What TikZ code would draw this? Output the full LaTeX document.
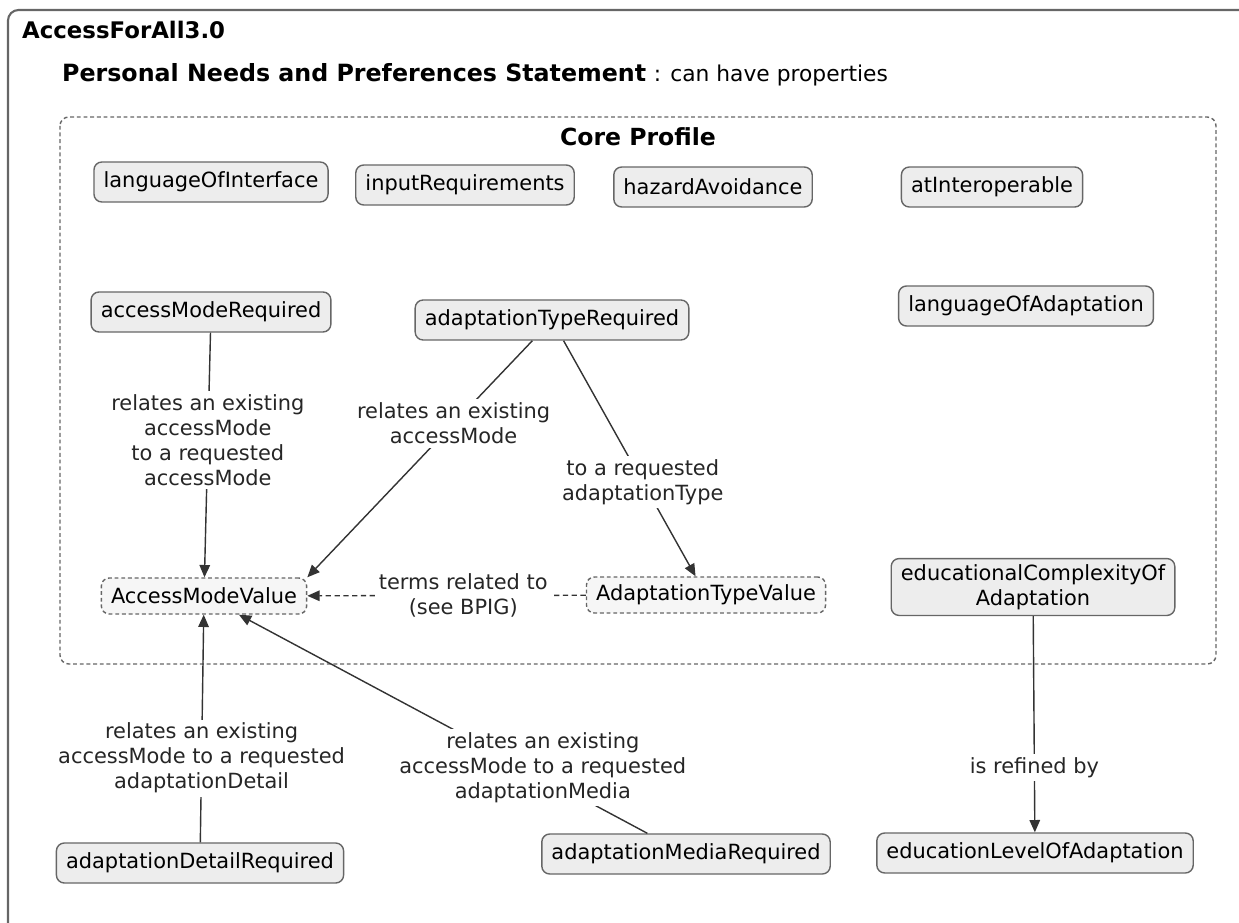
\documentclass[tikz,border=0pt]{standalone}
\usepackage{fontspec}
\setmainfont{DejaVu Sans}
\usetikzlibrary{arrows.meta}

\definecolor{boxfill}{HTML}{EDEDED}
\definecolor{boxline}{HTML}{666666}
\definecolor{linkline}{HTML}{333333}

\tikzset{
  prop/.style={draw=boxline, fill=boxfill, line width=0.8pt, rounded corners=4.5pt,
    minimum height=0.8cm, inner xsep=5.5pt, align=center,
    font=\fontsize{11.9}{14.2}\selectfont},
  valbox/.style={prop, fill=boxfill!50, dash pattern=on 2.2pt off 1.6pt, minimum height=0.72cm},
  lbl/.style={fill=white, align=center, inner sep=2pt, text=black!85,
    font=\fontsize{11.9}{14.2}\selectfont},
  rel/.style={draw=linkline, line width=0.8pt, -{Triangle[length=7pt,width=6pt]}},
}

\begin{document}
\begin{tikzpicture}[x=0.02cm, y=-0.02cm]

            \useasboundingbox (0,0) rectangle (1239,922);
            \clip (0,0) rectangle (1239,922);

            % outer frame and headings
            \draw[boxline, line width=1.2pt, rounded corners=6pt] (8,960) -- (8,10) -- (1280,10);
            \node[anchor=west, font=\bfseries\fontsize{13}{15}\selectfont] (title) at (16,30) {AccessForAll3.0};
            \node[anchor=west, font=\fontsize{13.5}{16}\selectfont] (pnp) at (56,75)
                {\textbf{Personal Needs and Preferences Statement} {\fontsize{12.4}{16}\selectfont: can have properties}};

            % core profile
            \draw[boxline, line width=0.8pt, dash pattern=on 2.2pt off 1.6pt, rounded corners=5pt]
                (60,117) rectangle (1216,664);
            \node[font=\bfseries\fontsize{13.4}{16}\selectfont] (core) at (638,137) {Core Profile};

            \node[prop] (langif) at (211,182) {languageOfInterface};
            \node[prop] (inreq) at (465,185) {inputRequirements};
            \node[prop] (hazard) at (713,187) {hazardAvoidance};
            \node[prop] (atint) at (992,187) {atInteroperable};

            \node[prop] (amreq) at (211,312) {accessModeRequired};
            \node[prop] (atreq) at (552,320) {adaptationTypeRequired};
            \node[prop] (langad) at (1026,306) {languageOfAdaptation};

            \node[valbox] (amval) at (204,596) {AccessModeValue};
            \node[valbox] (atval) at (706,595) {AdaptationTypeValue};
            \node[prop] (edcomp) at (1033,587) {educationalComplexityOf\\Adaptation};

            % outside the core profile
            \node[prop] (adreq) at (200,863) {adaptationDetailRequired};
            \node[prop] (amedreq) at (686,854) {adaptationMediaRequired};
            \node[prop] (edlevel) at (1035,853) {educationLevelOfAdaptation};

            % links
            \draw[rel] (amreq) -- node[lbl, pos=0.44] {relates an existing\\accessMode\\to a requested\\accessMode} (amval);
            \draw[rel] (atreq) -- node[lbl, pos=0.35] {relates an existing\\accessMode} (amval.north east);
            \draw[rel] (atreq) -- node[lbl, pos=0.6] {to a requested\\adaptationType} (atval);
            \draw[rel, dash pattern=on 3pt off 2pt] (atval) -- node[lbl, pos=0.44] {terms related to\\(see BPIG)} (amval);
            \draw[rel] (adreq) -- node[lbl, pos=0.37] {relates an existing\\accessMode to a requested\\adaptationDetail} (amval);
            \draw[rel] (amedreq) -- node[lbl, pos=0.3, xshift=0.36cm] {relates an existing\\accessMode to a requested\\adaptationMedia} (amval);
            \draw[rel] (edcomp) -- node[lbl, pos=0.7] {is refined by} (edlevel);

        \end{tikzpicture}
\end{document}
